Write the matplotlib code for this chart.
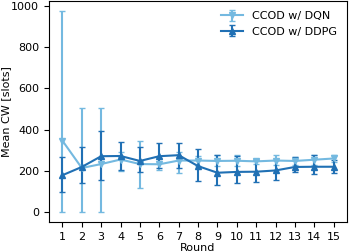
import matplotlib
matplotlib.use("Agg")
import matplotlib.pyplot as plt
import numpy as np

rounds = list(range(1, 16))
dqn_mean = [346, 214, 233, 255, 233, 232, 250, 250, 248, 249, 246, 250, 248, 254, 260]
dqn_low  = [0, 0, 0, 200, 115, 203, 188, 225, 223, 223, 233, 227, 228, 228, 245]
dqn_high = [972, 503, 506, 290, 343, 262, 290, 274, 276, 276, 257, 276, 268, 278, 275]
ddpg_mean = [179, 219, 271, 272, 248, 271, 276, 223, 191, 195, 196, 202, 219, 220, 220]
ddpg_low  = [96, 139, 155, 204, 195, 213, 215, 151, 131, 140, 144, 156, 193, 183, 188]
ddpg_high = [268, 314, 391, 339, 314, 336, 334, 308, 276, 274, 254, 255, 268, 276, 255]

c_dqn = '#74b9e0'
c_ddpg = '#2070b4'

plt.rcParams['font.family'] = ['DejaVu Sans']
plt.rcParams['font.size'] = 8
fig, ax = plt.subplots(figsize=(3.49, 2.52), dpi=100)
fig.subplots_adjust(left=0.14, right=0.995, top=0.995, bottom=0.118)

x = np.array(rounds)
dm = np.array(dqn_mean)
ax.errorbar(x, dm, yerr=[dm - np.array(dqn_low), np.array(dqn_high) - dm],
            color=c_dqn, marker='v', markersize=5, capsize=2, lw=1.5, elinewidth=1.5,
            label='CCOD w/ DQN')
pm = np.array(ddpg_mean)
ax.errorbar(x, pm, yerr=[pm - np.array(ddpg_low), np.array(ddpg_high) - pm],
            color=c_ddpg, marker='^', markersize=5, capsize=2, lw=1.5, elinewidth=1.5,
            label='CCOD w/ DDPG')
ax.set_xticks(rounds)
ax.set_yticks([0, 200, 400, 600, 800, 1000])
ax.set_xlabel('Round', labelpad=1)
ax.set_ylabel('Mean CW [slots]')
ax.yaxis.set_label_coords(-0.125, 0.5)
ax.legend(loc='upper right', frameon=False)
fig.savefig('out.png', dpi=100)
